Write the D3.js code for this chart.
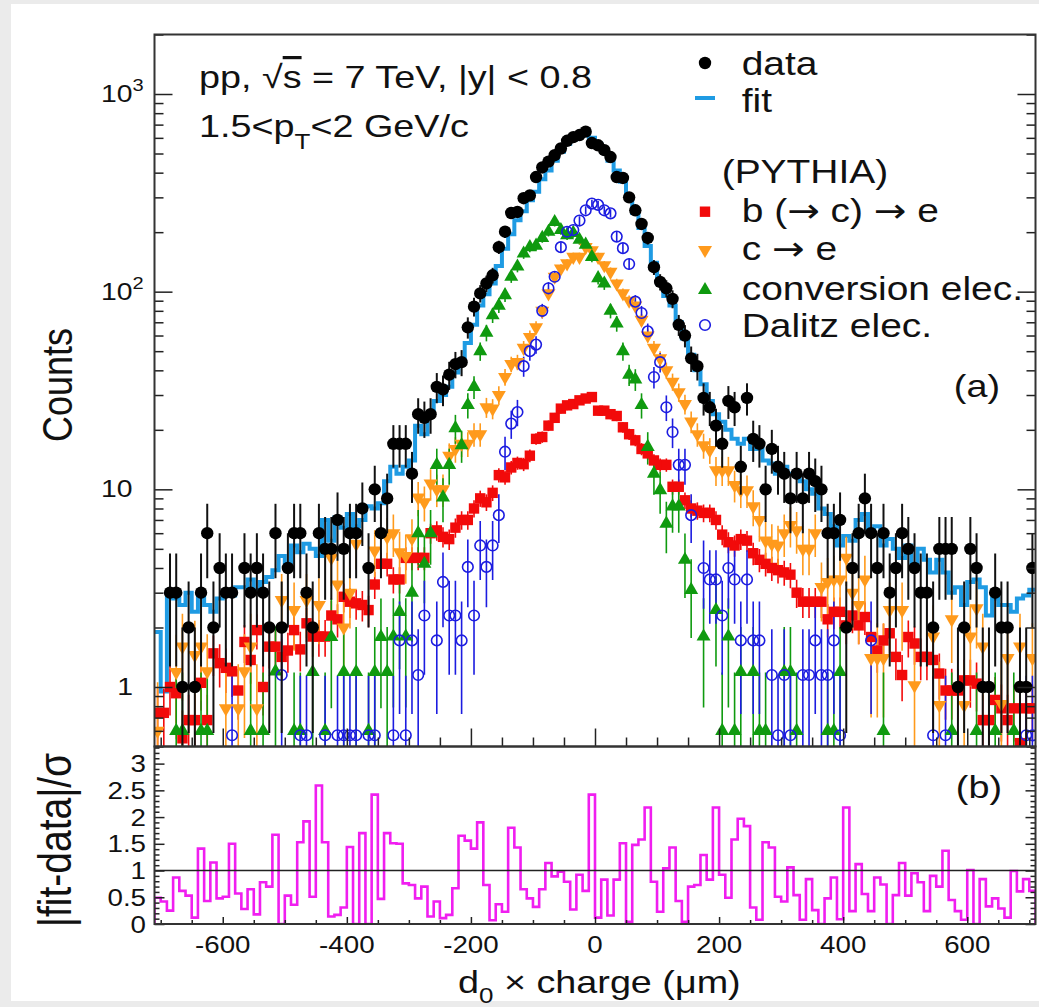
<!DOCTYPE html>
<html>
<head>
<meta charset="utf-8">
<script src="https://cdn.jsdelivr.net/npm/d3@7"></script>
<style>
  html, body { margin: 0; padding: 0; background: #ebebeb; }
  svg { display: block; font-family: "Liberation Sans", Arial, Helvetica, sans-serif; }
</style>
</head>
<body>
<svg id="chart" width="1039" height="1007"></svg>
<script>
// ---- binning: 142 bins of 10 um from -710 to 710 ----
const binLow = -710;
const binWidth = 10;

// measured counts (data)
const dataCounts = [0,0,3,3,1,2,1,3,6,2,
  4,3,3,0,4,3,4,3,2,6,
  2,4,6,6,3,2,6,5,5,7,
  5,6,6,8,4,10,6,9,17,17,
  17,12,24,23,24,33,32,38,43,44,
  66,84,98,110,121,168,201,250,253,297,
  307,380,425,455,490,530,580,605,620,645,
  565,550,520,480,380,376,300,258,220,187,
  133,112,104,92,68,60,46,42,29,26,
  21,17,28,26,13,29,18,17,10,16,
  13,12,9,12,9,12,11,10,6,6,
  7,2,4,6,9,6,4,6,3,4,
  6,5,4,3,3,2,5,5,5,1,
  2,5,4,1,1,3,2,2,0,1,
  1,4];

// template fit
const fitValues = [1.9,0.95,2.9,2.8,2.6,3.0,2.4,3.0,2.6,2.4,
  2.8,3.0,2.9,3.2,3.2,3.5,3.1,3.4,3.6,3.9,
  4.6,4.2,5.2,4.8,5.3,5.0,4.6,7.0,5.5,7.2,
  6.4,7.5,6.5,7.0,8.2,8.0,8.5,11,13,12,
  13,14,21,19,24,28,30,33,39,45,
  55,68,85,97,110,135,165,195,230,255,
  290,320,370,410,460,510,560,590,615,640,
  600,560,510,460,410,360,300,250,210,170,
  140,110,95,85,70,58,48,40,34,28,
  24,22,20,18,17,18,16,16,14,13.5,
  12,13,12,12,11,10,9.5,8,7.5,6.5,
  5.2,5.8,5.5,7,7.5,6,6.5,5.2,5.6,5.0,
  4.5,5.2,4.2,5.0,4.4,3.8,4.4,3.8,3.0,3.2,
  2.6,3.4,3.5,3.2,2.3,2.8,2.6,2.6,2.4,2.8,
  2.9,3.1];

// PYTHIA templates
const beautyValues = [0.74,0.74,1.0,0.93,0.55,0.68,0.68,1.05,0.68,1.48,
  1.32,1.25,1.2,0.96,1.69,1.37,1.94,1.0,1.6,1.6,
  1.42,1.53,1.94,1.55,2.1,1.8,1.8,1.8,2.3,2.2,
  2.86,2.7,2.65,2.6,2.45,3.3,4.2,4.2,3.5,3.5,
  4.5,4.5,4.5,4.5,6.0,6.2,5.75,5.6,6.4,7.0,
  7.0,8.0,9.0,8.6,9.6,11.8,11.5,12.9,13.6,13.4,
  14.8,18,18.4,21,23,25.6,26.6,27,28.2,28.8,
  29.3,25,25,24,23.5,20.6,19,17.7,16,15.2,
  14,13.3,13.3,10.3,10.3,8.8,8,7.8,7.6,7.6,
  7,5.9,5.4,5.2,5.6,5.5,4.75,4.4,4.2,4.0,
  3.9,3.8,3.7,3.0,2.7,2.7,2.7,2.7,2.2,2.4,
  2.4,2.05,2.3,2.05,2.26,1.79,1.53,1.72,1.87,1.42,
  1.15,1.79,1.66,1.42,1.42,1.37,1.17,0.96,0.96,0.96,
  1.08,1.08,1.04,0.68,0.68,0.86,0.78,0.68,0.78,0.52,
  0.78,0.78];

const charmValues = [0.6,null,null,1.19,1.6,null,1.45,1.6,1.2,null,
  null,0.78,null,0.78,1.2,1.6,0.78,null,null,null,
  2.75,null,2.45,null,2.75,null,2.6,null,4.5,3.3,
  2.0,3.0,5.3,null,null,4.9,null,5.75,6,4.8,
  4.6,5.65,9.1,8.6,10.7,10,10,14.8,16,17,
  17,19,19,26,25.6,30,37,43,44,52,
  59,66,80,98,119,131,139,150,150,168,
  162,150,136,126,110,98,90,85,72,60,
  52,46,40,35,31,27,22,19,16.7,15.8,
  12.5,12.5,12.5,10.5,9.9,9.9,8.2,7,5.5,5.3,
  5.2,6,6.6,6.2,5,5,6,3.2,3.4,3.5,
  3.5,4.5,3,2.6,3.5,1.4,1.4,1.4,2.45,null,
  2.45,null,1.02,null,null,1.8,0.81,null,2.2,null,
  0.81,1.8,2.5,1.6,null,null,0.82,1.4,null,1.6,
  null,1.4];

const conversionValues = [null,null,null,0.6,0.6,null,null,0.6,0.6,null,
  null,null,null,null,null,0.6,null,0.6,null,1.2,
  null,null,0.6,0.6,null,1.19,null,0.6,1.79,null,
  1.19,null,1.19,null,0.6,1.19,1.79,1.19,1.8,2.4,
  1.8,3.0,6,4.2,6,13.3,9.1,13.3,20.4,16.7,
  26.7,33,50,62,76,85,96,119,134,156,
  168,171,187,201,225,205,193,198,183,173,
  150,117,110,80,69,50,38,36,26.7,16.4,
  12,9.9,6.7,8.2,8.2,4.4,3.1,null,1.8,null,
  2.45,0.6,1.8,0.6,1.19,null,1.19,0.6,0.6,null,
  null,1.19,1.19,0.6,null,null,null,null,0.6,0.6,
  1.19,null,null,null,null,null,null,0.6,null,null,
  null,null,null,null,null,null,null,null,0.6,null,
  null,null,0.6,null,null,0.6,null,null,0.6,null,
  null,null];

const dalitzValues = [null,null,null,null,null,null,null,null,null,null,
  null,null,0.57,null,null,null,null,null,null,null,
  1.15,null,null,0.57,0.57,null,null,0.57,null,0.57,
  0.57,0.57,0.57,null,0.57,0.57,null,null,0.57,1.72,
  0.57,1.72,1.15,2.3,null,1.72,3.4,2.3,2.3,1.72,
  4.05,2.3,5.2,4.05,5.2,7.4,15.5,21.5,24.6,42,
  50,54,80,104,119,168,201,205,229,258,
  279,275,258,249,190,166,138,89,78,63,
  37,44,26,19.5,13.3,13.3,7.4,null,4,3.5,
  3.5,2.3,4,3.5,1.72,3.5,1.72,1.72,null,1.15,
  0.57,1.15,0.57,null,1.15,1.15,1.72,1.15,1.15,1.72,
  0.57,null,null,null,null,1.72,null,null,null,null,
  null,null,null,null,null,0.57,null,0.57,null,null,
  null,null,null,null,null,null,null,null,null,null,
  0.57,0.57];

// |fit - data| / sigma per bin
const pullValues = [0.49,0.42,0.25,0.87,0.62,0.53,0.12,1.41,0.43,1.15,
  0.48,0.51,1.5,0.57,0.28,0.65,0.18,0.78,0.7,1.67,
  0.0,0.53,0.36,1.53,1.92,0.51,2.59,1.53,0.14,0.17,
  0.31,1.44,0.0,1.7,0.0,2.42,0.47,1.7,1.51,1.5,
  0.76,0.73,0.48,0.7,0.14,0.42,0.11,0.17,0.67,1.65,
  1.56,1.41,1.9,0.73,0.07,0.37,0.23,1.8,1.43,0.65,
  0.48,0.32,0.65,1.14,0.89,0.98,0.79,0.27,0.92,0.62,
  2.42,
  0.12,0.83,0.16,0.83,1.51,0.04,1.48,1.58,2.18,0.79,
  0.23,1.04,1.43,0.43,0.04,0.7,0.73,1.29,0.83,2.18,
  0.92,0.49,1.58,1.97,1.83,0.31,0.08,1.53,1.43,0.51,
  0.42,1.06,0.54,0.08,0.84,0.26,0,0.48,0.87,0.09,
  2.18,0.24,1.12,0.56,0.24,0.87,0.74,0,0.54,1.14,
  0.53,0.95,0.78,0.24,0.9,0.7,1.37,0.45,0.24,0.08,
  1.01,0,0.84,0.33,0.48,0.29,0.12,0.99,0.61,0.84,
  0.62];

// per-entry weights of the simulated templates (for statistical errors)
const templateWeights = { beauty: 0.08, charm: 0.35, conversion: 0.57, dalitz: 0.57 };

// axis annotation
const xTickValues = [-600, -400, -200, 0, 200, 400, 600];
const yTopMajor = [1, 10, 100, 1000];
const yBottomLabels = [0, 0.5, 1, 1.5, 2, 2.5, 3];

// ---- geometry ----
const W = 1039, H = 1007;
const X0 = 154.5, X1 = 1035.5;
const TY0 = 34.5, TY1 = 746.5;
const BY0 = 746.5, BY1 = 924;
const SX = 1.18; // horizontal glyph stretch of all text

const svg = d3.select("#chart");
svg.append("rect").attr("x", 11).attr("y", 4).attr("width", W - 11).attr("height", 997).attr("fill", "#fff");

const x = d3.scaleLinear().domain([-710, 710]).range([X0, X1]);
const yT = d3.scaleLog().domain([0.5, 2000]).range([TY1, TY0]);
const yB = d3.scaleLinear().domain([0, 3.32]).range([BY1, BY0]);

const nBins = dataCounts.length;
const edges = d3.range(nBins + 1).map(i => binLow + binWidth * i);
const centers = d3.range(nBins).map(i => binLow + binWidth * (i + 0.5));

const defs = svg.append("defs");
defs.append("clipPath").attr("id", "clipTop").append("rect")
  .attr("x", X0).attr("y", TY0).attr("width", X1 - X0).attr("height", TY1 - TY0);
defs.append("clipPath").attr("id", "clipBot").append("rect")
  .attr("x", X0).attr("y", BY0).attr("width", X1 - X0).attr("height", BY1 - BY0);

// ---- text helpers ----
function txt(parent, px, py, size, anchor, rot) {
  return parent.append("text")
    .attr("transform", `translate(${px},${py}) scale(${SX},1)` + (rot ? ` rotate(${rot})` : ""))
    .attr("font-size", size)
    .attr("text-anchor", anchor || "start")
    .attr("fill", "#111");
}
// writes a label, setting arrows in a font with a long arrow glyph
function withArrows(t, label) {
  label.split(/(→)/).forEach(part => {
    if (!part) return;
    const sp = t.append("tspan").text(part);
    if (part === "→") sp.attr("font-family", "DejaVu Sans");
  });
  return t;
}

// ---- top panel ----
const topPanel = svg.append("g").attr("clip-path", "url(#clipTop)");

// fit histogram
const stepLine = d3.line().curve(d3.curveStepAfter);
const fitPts = fitValues.map((v, i) => [x(edges[i]), yT(v)]);
fitPts.push([x(edges[nBins]), yT(fitValues[nBins - 1])]);
topPanel.append("path").attr("d", stepLine(fitPts))
  .attr("fill", "none").attr("stroke", "#1f9be3").attr("stroke-width", 4);

function errorBars(g, values, errFn, color, width) {
  values.forEach((v, i) => {
    if (v == null || v <= 0) return;
    const e = errFn(v);
    const lo = v - e > 0.05 ? yT(v - e) : TY1 + 20;
    g.append("line")
      .attr("x1", x(centers[i])).attr("x2", x(centers[i]))
      .attr("y1", yT(v + e)).attr("y2", lo)
      .attr("stroke", color).attr("stroke-width", width);
  });
}

function markers(g, values, kind, color) {
  values.forEach((v, i) => {
    if (v == null || v <= 0) return;
    drawMarker(g, x(centers[i]), yT(v), kind, color);
  });
}

function drawMarker(g, cx, cy, kind, color) {
  if (kind === "dot") {
    g.append("circle").attr("cx", cx).attr("cy", cy).attr("r", 6.2).attr("fill", color);
  } else if (kind === "square") {
    g.append("rect").attr("x", cx - 5.2).attr("y", cy - 5.2).attr("width", 10.4).attr("height", 10.4).attr("fill", color);
  } else if (kind === "down" || kind === "up") {
    g.append("path").attr("d", d3.symbol(d3.symbolTriangle, 85)())
      .attr("transform", `translate(${cx},${cy})` + (kind === "down" ? " rotate(180)" : ""))
      .attr("fill", color);
  } else if (kind === "ring") {
    g.append("circle").attr("cx", cx).attr("cy", cy).attr("r", 5.3)
      .attr("fill", "none").attr("stroke", color).attr("stroke-width", 1.6);
  }
}

const series = [
  { values: beautyValues, w: templateWeights.beauty, kind: "square", color: "#f20a0a" },
  { values: charmValues, w: templateWeights.charm, kind: "down", color: "#ff9a1c" },
  { values: conversionValues, w: templateWeights.conversion, kind: "up", color: "#0f9a0f" },
  { values: dalitzValues, w: templateWeights.dalitz, kind: "ring", color: "#1c1ce0" }
];
series.forEach(s => errorBars(topPanel, s.values, v => Math.sqrt(v * s.w), s.color, 1.6));
series.forEach(s => markers(topPanel, s.values, s.kind, s.color));

errorBars(topPanel, dataCounts, v => Math.sqrt(v), "#111", 2);
markers(topPanel, dataCounts, "dot", "#000");

// ---- bottom panel ----
const botPanel = svg.append("g").attr("clip-path", "url(#clipBot)");
const pullPts = [[x(edges[0]), yB(0)]];
pullValues.forEach((v, i) => pullPts.push([x(edges[i]), yB(v)]));
pullPts.push([x(edges[nBins]), yB(pullValues[nBins - 1])]);
pullPts.push([x(edges[nBins]), yB(0)]);
botPanel.append("path").attr("d", d3.line().curve(d3.curveStepAfter)(pullPts))
  .attr("fill", "none").attr("stroke", "#f01ef0").attr("stroke-width", 2.6);
svg.append("line").attr("x1", X0).attr("x2", X1).attr("y1", yB(1)).attr("y2", yB(1))
  .attr("stroke", "#222").attr("stroke-width", 1.6);

// ---- axes ----
const axisColor = "#222";
function styleAxis(g) {
  g.select(".domain").remove();
  g.selectAll(".tick line").attr("stroke", axisColor).attr("stroke-width", 1.5);
  g.selectAll(".tick text").remove();
}
const xMinor = d3.range(-700, 701, 50).filter(v => v % 200 !== 0);
svg.append("g").attr("transform", `translate(0,${TY1})`)
  .call(d3.axisBottom(x).tickValues(xTickValues).tickSize(-18)).call(styleAxis);
svg.append("g").attr("transform", `translate(0,${TY1})`)
  .call(d3.axisBottom(x).tickValues(xMinor).tickSize(-9)).call(styleAxis);
svg.append("g").attr("transform", `translate(0,${BY1})`)
  .call(d3.axisBottom(x).tickValues(xTickValues).tickSize(-7)).call(styleAxis);
svg.append("g").attr("transform", `translate(0,${BY1})`)
  .call(d3.axisBottom(x).tickValues(xMinor).tickSize(-4)).call(styleAxis);

const yMinor = [];
[0.1, 1, 10, 100, 1000].forEach(d => { for (let k = 2; k <= 9; k++) { const v = d * k; if (v >= 0.5 && v <= 2000) yMinor.push(v); } });
[[X0, 1], [X1, -1]].forEach(([px, dir]) => {
  const mk = (vals, len) => svg.append("g").attr("transform", `translate(${px},0)`)
    .call((dir > 0 ? d3.axisLeft(yT) : d3.axisRight(yT)).tickValues(vals).tickSize(-len)).call(styleAxis);
  mk(yTopMajor, 18); mk(yMinor, 9);
  const bMajor = d3.range(0, 3.01, 0.5);
  const bMinor = d3.range(0, 3.31, 0.1).filter(v => Math.abs(v * 2 - Math.round(v * 2)) > 1e-6);
  const mb = (vals, len) => svg.append("g").attr("transform", `translate(${px},0)`)
    .call((dir > 0 ? d3.axisLeft(yB) : d3.axisRight(yB)).tickValues(vals).tickSize(-len)).call(styleAxis);
  mb(bMajor, 10); mb(bMinor, 5);
});

[[TY0, TY1], [BY0, BY1]].forEach(([a, b]) => {
  svg.append("rect").attr("x", X0).attr("y", a).attr("width", X1 - X0).attr("height", b - a)
    .attr("fill", "none").attr("stroke", "#333").attr("stroke-width", 2);
});

// ---- labels ----
xTickValues.forEach(v => {
  txt(svg, x(v), 953, 23.5, "middle").text(String(v));
});
const sup = ["", "", "2", "3"];
yTopMajor.forEach((v, k) => {
  const yy = yT(v) + 8;
  if (v === 1) { txt(svg, 133, yy, 24, "end").text("1"); return; }
  const t = txt(svg, 101, yy, 24, "start");
  t.append("tspan").text("10");
  if (sup[k]) t.append("tspan").attr("font-size", 17).attr("dy", -11).text(sup[k]);
});
yBottomLabels.forEach(v => {
  txt(svg, 146, yB(v) + 8.5, 23.5, "end").text(String(v));
});

const xt = txt(svg, 458, 993, 32, "start");
xt.append("tspan").text("d");
xt.append("tspan").attr("font-size", 22).attr("dy", 10).text("0");
xt.append("tspan").attr("dy", -10).text(" × charge (μm)");
txt(svg, 72, 385, 36, "middle", -90).text("Counts");
txt(svg, 71, 840, 39, "middle", -90).text("|fit-data|/σ");

const a1 = txt(svg, 199, 88, 32, "start");
a1.append("tspan").text("pp, ");
a1.append("tspan").text("√");
a1.append("tspan").style("text-decoration", "overline").text("s");
a1.append("tspan").text(" = 7 TeV, |y| < 0.8");
const a2 = txt(svg, 199, 137, 32, "start");
a2.append("tspan").text("1.5<p");
a2.append("tspan").attr("font-size", 22).attr("dy", 12).text("T");
a2.append("tspan").attr("dy", -12).text("<2 GeV/c");
txt(svg, 1000, 397, 32, "end").text("(a)");
txt(svg, 1002, 798, 32, "end").text("(b)");

const legendX = 705, legendTextX = 741.7;
drawMarker(svg, legendX, 63, "dot", "#000");
txt(svg, legendTextX, 75, 33).text("data");
svg.append("line").attr("x1", 695).attr("x2", 715).attr("y1", 98).attr("y2", 98)
  .attr("stroke", "#1f9be3").attr("stroke-width", 4);
txt(svg, legendTextX, 111.7, 33).text("fit");
txt(svg, 721.7, 183, 33).text("(PYTHIA)");
const legendRows = [
  { y: 211.7, base: 221.7, label: "b (→ c) → e" },
  { y: 250, base: 260, label: "c → e" },
  { y: 290, base: 300, label: "conversion elec." },
  { y: 325, base: 336.7, label: "Dalitz elec." }
];
legendRows.forEach((r, k) => {
  drawMarker(svg, legendX, r.y, series[k].kind, series[k].color);
  withArrows(txt(svg, legendTextX, r.base, 33), r.label);
});
</script>
</body>
</html>
